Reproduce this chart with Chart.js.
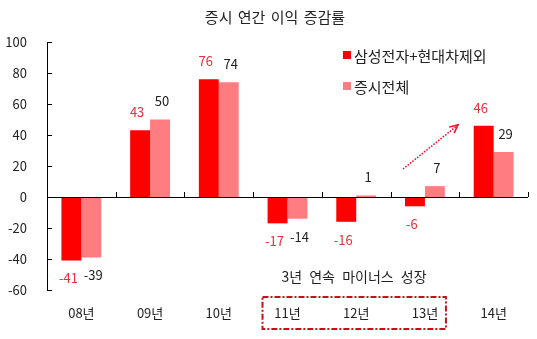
<!DOCTYPE html>
<html>
<head>
<meta charset="utf-8">
<script src="https://cdn.jsdelivr.net/npm/chart.js@4"></script>
<style>
html,body{margin:0;padding:0;background:#fff;}
#wrap{width:537px;height:339px;position:relative;}
</style>
</head>
<body>
<div id="wrap"><canvas id="chart" width="537" height="339"></canvas></div>
<script>
// --- data ---
const years = ['08년', '09년', '10년', '11년', '12년', '13년', '14년'];
const exSamsungHyundai = [-41, 43, 76, -17, -16, -6, 46];
const marketTotal = [-39, 50, 74, -14, 1, 7, 29];
const yTicks = [-60, -40, -20, 0, 20, 40, 60, 80, 100];
const titleText = '증시 연간 이익 증감률';
const noteText = '3년 연속 마이너스 성장';

const FONT = '"Noto Sans CJK KR", "Noto Sans", sans-serif';
const RED = '#ff0000', PINK = '#ff7c80';

// custom drawing: title, legend, zero axis, inward ticks, value labels, notes
const extras = {
  id: 'extras',
  afterDatasetsDraw(chart){
    const ctx = chart.ctx;
    const x = chart.scales.x, y = chart.scales.y;
    const area = chart.chartArea;
    const y0 = y.getPixelForValue(0);
    ctx.save();
    ctx.strokeStyle = '#000'; ctx.lineWidth = 1;
    // zero line with upward ticks
    ctx.beginPath();
    ctx.moveTo(area.left, y0 + 0.5); ctx.lineTo(area.right, y0 + 0.5);
    const step = (area.right - area.left) / years.length;
    for (let i = 1; i <= years.length; i++){
      const px = Math.round(area.left + step*i) + 0.5;
      ctx.moveTo(px, y0); ctx.lineTo(px, y0 - 5);
    }
    // y ticks inward
    yTicks.forEach(v => {
      const py = Math.round(y.getPixelForValue(v)) + 0.5;
      ctx.moveTo(area.left, py); ctx.lineTo(area.left + 5, py);
    });
    ctx.stroke();

    // value labels
    ctx.font = '13px ' + FONT;
    ctx.textAlign = 'center'; ctx.textBaseline = 'middle';
    chart.data.datasets.forEach((ds, di) => {
      const meta = chart.getDatasetMeta(di);
      ctx.fillStyle = di === 0 ? '#e8303a' : '#222';
      const dx = di === 0 ? -3 : 2;
      meta.data.forEach((bar, i) => {
        const v = ds.data[i];
        const ly = v >= 0 ? bar.y - 18 : bar.y + 18;
        ctx.fillText(String(v), bar.x + dx, ly);
      });
    });

    // title
    ctx.fillStyle = '#222';
    ctx.font = '15px ' + FONT;
    ctx.wordSpacing = '2px';
    ctx.fillText(titleText, 275, 17);

    // legend
    ctx.textAlign = 'left';
    ctx.wordSpacing = '0px';
    chart.data.datasets.forEach((ds, di) => {
      const ly = 55 + di*31;
      ctx.fillStyle = ds.backgroundColor;
      ctx.fillRect(343, ly - 4, 8, 8);
      ctx.fillStyle = '#222';
      ctx.fillText(ds.label, 354, ly + 1);
    });

    // note
    ctx.textAlign = 'center';
    ctx.font = '14px ' + FONT;
    ctx.wordSpacing = '4px';
    ctx.fillText(noteText, 354, 277);
    ctx.wordSpacing = '0px';

    // dashed box round 11~13
    ctx.strokeStyle = '#c8101e'; ctx.lineWidth = 2;
    ctx.setLineDash([6, 2, 2, 2]);
    const bx0 = x.getPixelForValue(3) - 25, bx1 = x.getPixelForValue(5) + 21;
    ctx.strokeRect(bx0, 297, bx1 - bx0, 32);

    // dotted arrow 13 -> 14
    ctx.strokeStyle = '#f0102a'; ctx.lineWidth = 1.6;
    ctx.setLineDash([1.5, 1.5]);
    const ax0 = 403, ay0 = 169, ax1 = 458, ay1 = 125;
    ctx.beginPath(); ctx.moveTo(ax0, ay0); ctx.lineTo(ax1, ay1); ctx.stroke();
    ctx.setLineDash([]);
    const ang = Math.atan2(ay1 - ay0, ax1 - ax0);
    ctx.beginPath();
    ctx.moveTo(ax1 - 9*Math.cos(ang - 0.45), ay1 - 9*Math.sin(ang - 0.45));
    ctx.lineTo(ax1, ay1);
    ctx.lineTo(ax1 - 9*Math.cos(ang + 0.45), ay1 - 9*Math.sin(ang + 0.45));
    ctx.stroke();
    ctx.restore();
  }
};

new Chart(document.getElementById('chart'), {
  type: 'bar',
  data: {
    labels: years,
    datasets: [
      { label: '삼성전자+현대차제외', data: exSamsungHyundai, backgroundColor: RED },
      { label: '증시전체', data: marketTotal, backgroundColor: PINK }
    ]
  },
  options: {
    responsive: false,
    animation: false,
    layout: { padding: { top: 42, right: 9, left: 0, bottom: 0 } },
    datasets: { bar: { categoryPercentage: 0.58, barPercentage: 1.0 } },
    scales: {
      x: {
        grid: { display: false, drawTicks: false },
        border: { display: false },
        ticks: { color: '#222', font: { family: FONT, size: 13 }, padding: 15 },
        afterFit(s){ s.height = 49; }
      },
      y: {
        min: -60, max: 100,
        afterBuildTicks(s){ s.ticks = yTicks.map(v => ({ value: v })); },
        grid: { display: false, drawTicks: false },
        border: { display: true, color: '#000', width: 1 },
        ticks: { color: '#222', font: { family: FONT, size: 13 }, padding: 20 },
        afterFit(s){ s.width = 47; }
      }
    },
    plugins: { legend: { display: false }, tooltip: { enabled: false } }
  },
  plugins: [extras]
});
</script>
</body>
</html>
